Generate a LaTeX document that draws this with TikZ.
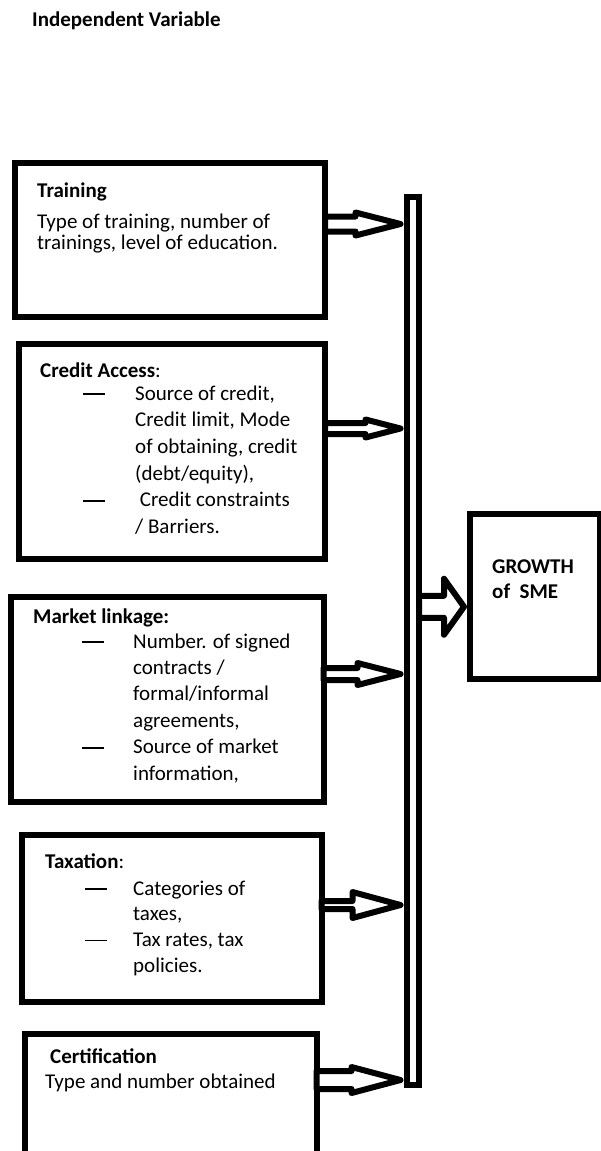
\documentclass[tikz,border=0pt]{standalone}
\usepackage{fontspec}
\setmainfont{Carlito}
\usetikzlibrary{calc}
\newcommand{\ldash}{\raisebox{5pt}{\rule{22pt}{1.7pt}}}

\begin{document}
\begin{tikzpicture}[x=1pt,y=1pt,
  frame/.style={draw,line width=6pt},
  txt/.style={anchor=base west,inner sep=0pt,font=\fontsize{21}{26.7}\selectfont},
  feed/.style n args={3}{draw,line width=6pt,fill=white,line join=round,
    to path={let \p1=(\tikztostart),\p2=(\tikztotarget) in
      (\x1-3pt,\y1+#1pt) -- (\x2-#3pt-3pt,\y1+#1pt) -- (\x2-#3pt-3pt,\y1+#2pt)
      -- (\x2-3pt,\y1) -- (\x2-#3pt-3pt,\y1-#2pt) -- (\x2-#3pt-3pt,\y1-#1pt)
      -- (\x1-3pt,\y1-#1pt) -- cycle}}]
\useasboundingbox (0,0) rectangle (601,-1151);
\clip (0,0) rectangle (601,-1151);

\node[txt] (title) at (32,-27) {\textbf{Independent Variable}};

% boxes on the left
\node[frame,minimum width=310pt,minimum height=154pt] (tr) at (170,-240) {};
\node[frame,minimum width=306.5pt,minimum height=215pt] (ca) at (171.75,-451) {};
\node[frame,minimum width=312.5pt,minimum height=205.5pt] (ml) at (167.25,-699.25) {};
\node[frame,minimum width=300pt,minimum height=166.5pt] (tx) at (171.5,-918.25) {};
\node[frame,minimum width=291.5pt,minimum height=146.5pt] (ce) at (170.75,-1106.75) {};

% bar and result
\node[frame,minimum width=12.5pt,minimum height=888.5pt] (bar) at (412.75,-640.75) {};
\node[frame,minimum width=129.5pt,minimum height=165pt] (gr) at (534.75,-596) {};

% texts
\node[txt] (trhead) at (37,-197) {\textbf{Training}};
\node[txt,font=\fontsize{21}{21.7}\selectfont] (trbody) at (37,-228)
  {\begin{tabular}[t]{@{}l@{}}Type of training, number of\\ trainings, level of education.\end{tabular}};

\node[txt] (cahead) at (40,-377) {\textbf{Credit Access}:};
\node[txt] (cabody) at (83,-400)
  {\begin{tabular}[t]{@{}p{52pt}@{}l@{}}
  \ldash & Source of credit,\\
   & Credit limit, Mode\\
   & of obtaining, credit\\
   & (debt/equity),\\
  \ldash & \ Credit constraints\\
   & / Barriers.
  \end{tabular}};

\node[txt] (mlhead) at (33,-623) {\textbf{Market linkage:}};
\node[txt,font=\fontsize{21}{26.4}\selectfont] (mlbody) at (82,-648)
  {\begin{tabular}[t]{@{}p{51pt}@{}l@{}}
  \ldash & Number. of signed\\
   & contracts /\\
   & formal/informal\\
   & agreements,\\
  \ldash & Source of market\\
   & information,
  \end{tabular}};

\node[txt] (txhead) at (45,-868) {\textbf{Taxation}:};
\node[txt,font=\fontsize{21}{25.7}\selectfont] (txbody) at (85,-895)
  {\begin{tabular}[t]{@{}p{48pt}@{}l@{}}
  \ldash & Categories of\\
   & taxes,\\
  \ldash & Tax rates, tax\\
   & policies.
  \end{tabular}};

\node[txt] (cehead) at (50,-1063) {\textbf{Certification}};
\node[txt] (cebody) at (45,-1088) {Type and number obtained};

\node[txt,font=\fontsize{21}{25}\selectfont] (grtxt) at (492,-573)
  {\begin{tabular}[t]{@{}l@{}}\textbf{GROWTH}\\ \textbf{of\ \ SME}\end{tabular}};

% arrows into the bar
\draw[feed={7.5}{11.5}{45}] ([yshift=16pt]tr.east) to (bar.west);
\draw[feed={5.5}{9}{35}] ([yshift=22.5pt]ca.east) to (bar.west);
\draw[feed={6}{11}{43}] ([yshift=25.25pt]ml.east) to (bar.west);
\draw[feed={4}{13}{48}] ([yshift=13.25pt]tx.east) to (bar.west);
\draw[feed={9}{13}{49}] ([yshift=26.75pt]ce.east) to (bar.west);
\draw[feed={11}{28}{20}] ([yshift=34pt]bar.east) to (gr.west);
\end{tikzpicture}
\end{document}
